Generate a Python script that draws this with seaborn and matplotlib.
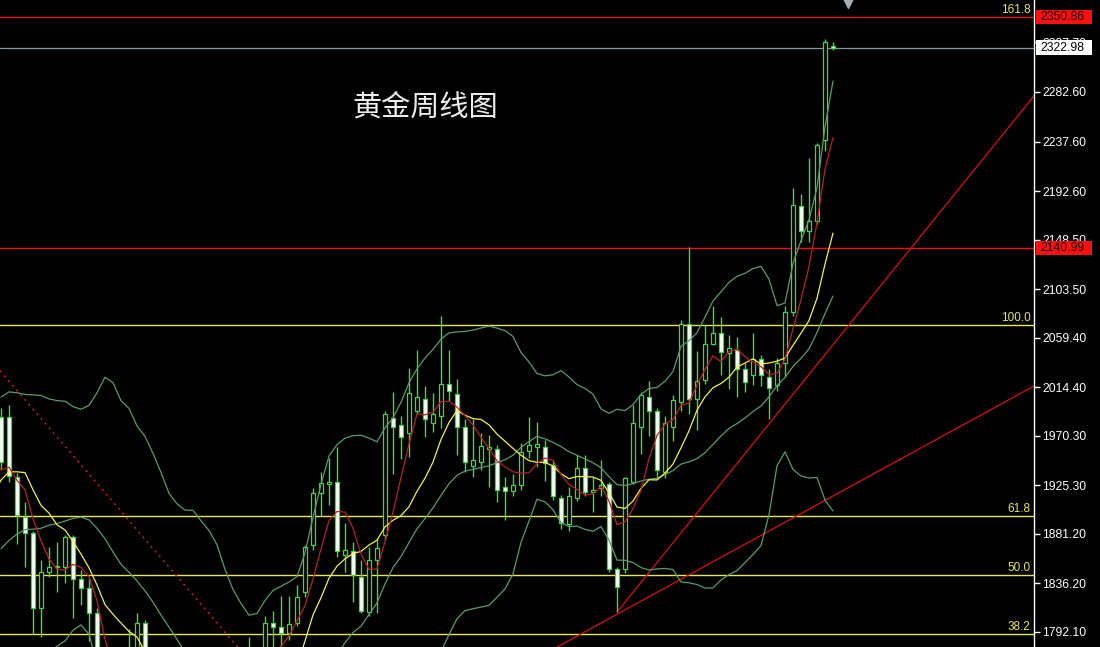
import pandas as pd
import matplotlib
matplotlib.use('Agg')
import matplotlib.pyplot as plt
from matplotlib.patches import Rectangle
import seaborn as sns

# Weekly closes before the first visible candle (only used for MA / Bollinger warm-up)
prior_close = [1783, 1783, 1798, 1808, 1829, 1797, 1818, 1835, 1791, 1808,
               1859, 1898, 1889, 1970, 1988, 1921, 1958, 1925, 1945]

# Weekly gold candles, Apr 2022 -> Apr 2024
open_ = [1987, 1987, 1933, 1896, 1882, 1814, 1846, 1851, 1851, 1878,
         1840, 1832, 1809, 1742, 1703, 1727, 1766, 1775, 1800, 1747,
         1737, 1712, 1716, 1675, 1643, 1661, 1695, 1644, 1657, 1645,
         1681, 1771, 1751, 1755, 1800, 1796, 1791, 1800, 1828, 1871,
         1918, 1926, 1928, 1862, 1865, 1842, 1810, 1857, 1880, 1986,
         1980, 1973, 1993, 2004, 1982, 1988, 2017, 2008, 1978, 1943,
         1946, 1958, 1958, 1924, 1920, 1925, 1956, 1960, 1960, 1944,
         1914, 1890, 1914, 1941, 1919, 1923, 1926, 1849, 1849, 1928,
         1978, 2005, 1993, 1937, 1978, 2001, 2072, 2004, 2021, 2054,
         2064, 2045, 2048, 2031, 2025, 2040, 2024, 2016, 2036, 2083,
         2179, 2156, 2165, 2239, 2324.5]
high = [1995, 1998, 1936, 1910, 1884, 1857, 1869, 1874, 1880, 1880,
        1848, 1841, 1814, 1745, 1739, 1767, 1795, 1809, 1803, 1765,
        1740, 1735, 1735, 1688, 1675, 1729, 1697, 1668, 1675, 1684,
        1774, 1787, 1775, 1806, 1811, 1825, 1825, 1835, 1871, 1923,
        1937, 1950, 1960, 1891, 1874, 1857, 1869, 1876, 1993, 2010,
        1988, 2032, 2048, 2015, 2009, 2079, 2048, 2022, 1985, 1985,
        1973, 1971, 1962, 1933, 1935, 1964, 1987, 1983, 1966, 1948,
        1916, 1924, 1953, 1953, 1933, 1948, 1928, 1851, 1933, 1998,
        2010, 2020, 1995, 1988, 2007, 2075, 2142, 2047, 2071, 2088,
        2078, 2062, 2060, 2036, 2064, 2044, 2031, 2041, 2088, 2195,
        2190, 2223, 2236, 2331, 2328]
low = [1940, 1928, 1872, 1851, 1790, 1787, 1842, 1828, 1836, 1805,
       1816, 1784, 1732, 1697, 1681, 1711, 1754, 1772, 1745, 1728,
       1688, 1691, 1654, 1639, 1615, 1659, 1640, 1617, 1639, 1616,
       1673, 1747, 1721, 1745, 1765, 1774, 1785, 1797, 1824, 1866,
       1897, 1907, 1860, 1846, 1819, 1809, 1806, 1809, 1875, 1935,
       1949, 1951, 1990, 1969, 1974, 1977, 2002, 1953, 1937, 1933,
       1939, 1924, 1910, 1894, 1915, 1921, 1950, 1942, 1929, 1912,
       1885, 1884, 1911, 1915, 1901, 1915, 1846, 1810, 1845, 1926,
       1954, 1970, 1932, 1932, 1965, 1993, 1990, 1975, 2017, 2053,
       2025, 2013, 2005, 2010, 2016, 2015, 1985, 2011, 2024, 2079,
       2146, 2146, 2163, 2229, 2321]
close = [1946, 1934, 1898, 1882, 1814, 1846, 1851, 1851.5, 1878, 1840,
         1832, 1809, 1742, 1703, 1727, 1766, 1775, 1800, 1747, 1737,
         1712, 1716, 1675, 1643, 1661, 1695, 1644, 1657, 1645, 1681,
         1771, 1751, 1755, 1800, 1796, 1791, 1799, 1824, 1869, 1918,
         1927, 1928, 1865, 1866, 1844, 1811, 1857, 1868, 1990, 1978,
         1969, 2009, 2005, 1985, 1990, 2017, 2011, 1978, 1946, 1948,
         1961, 1960, 1921, 1920, 1925, 1955, 1962, 1962.5, 1945, 1915,
         1891, 1915, 1941, 1919, 1921, 1925, 1849, 1833, 1932, 1982,
         2007, 1993, 1939, 1982, 2003, 2072, 2004, 2020, 2054, 2064,
         2046, 2050, 2031, 2019, 2040, 2025, 2014, 2036, 2083, 2180,
         2156, 2165, 2234, 2328, 2323]

y_ticks = [2327.70, 2282.60, 2237.60, 2192.60, 2148.50, 2103.50, 2059.40,
           2014.40, 1970.30, 1925.30, 1881.20, 1836.20, 1792.10]

# Fibonacci retracement (low -> high) and drawn levels
fib_low, fib_high = 1616.5, 2070.4
fib_levels = [38.2, 50.0, 61.8, 100.0, 161.8]
red_levels = [2350.86, 2140.99]
bid_price = 2322.98

# trend lines, (week index, price) anchors
down_line = [(-5, 2070.4), (25, 1817.0)]
slow_up_line = [(29, 1617.0), (77, 1808.0)]
fast_up_line = [(77, 1810.0), (96, 1981.0)]

GREEN = '#3cdc3c'
BAND = '#5b9b6b'
RED = '#e81010'
YELLOW = '#e8e858'

sns.set_style('dark', {'axes.facecolor': 'black', 'figure.facecolor': 'black'})
plt.rcParams['font.family'] = ['Liberation Sans', 'Noto Sans CJK SC', 'DejaVu Sans']

df = pd.DataFrame({'open': open_, 'high': high, 'low': low, 'close': close})
df['idx'] = range(len(df))

# indicators: SMA5 (red), SMA10 (yellow), Bollinger(20, 2)
all_close = pd.Series(prior_close + close, index=range(-len(prior_close), len(close)))
sma5 = all_close.rolling(5).mean()
sma10 = all_close.rolling(10).mean()
mid = all_close.rolling(20).mean()
sd = all_close.rolling(20).std(ddof=0)
upper = mid + 2 * sd
lower = mid - 2 * sd

fig = plt.figure(figsize=(11, 6.47), dpi=100)
ax = fig.add_axes([0, 0, 1034 / 1100, 1])
ax.set_facecolor('black')

# horizontal levels (the 161.8 level sits under the red 2350.86 line)
for lv in fib_levels:
    price = fib_low + (fib_high - fib_low) * lv / 100
    if lv <= 100:
        ax.axhline(price, color=YELLOW, lw=1, zorder=1)
    ax.text(0.9965, price + 1.2, f'{lv:.1f}', transform=ax.get_yaxis_transform(),
            ha='right', va='bottom', color=YELLOW, fontsize=8.5, zorder=6)
for lv in red_levels:
    ax.axhline(lv, color=RED, lw=1, zorder=2)
ax.axhline(bid_price, color='#8896a4', lw=0.9, zorder=2)

# trend lines
ax.axline(down_line[0], down_line[1], color='#d02020', lw=1, ls=(0, (1.5, 3)), zorder=2)
ax.axline(slow_up_line[0], slow_up_line[1], color='#d81010', lw=0.9, zorder=2)
(x0, y0), (x1, y1) = fast_up_line
slope = (y1 - y0) / (x1 - x0)
ax.plot([x0, 135], [y0, y0 + slope * (135 - x0)], color='#d81010', lw=0.9, zorder=2)

# candles: hollow = up week, white = down week
bull = df[df['close'] >= df['open']]
bear = df[df['close'] < df['open']]
ax.vlines(df['idx'], df['low'], df['high'], color=GREEN, lw=1, zorder=3)
for part, face in [(bull, 'black'), (bear, 'white')]:
    bottom = part[['open', 'close']].min(axis=1)
    height = (part['close'] - part['open']).abs().clip(lower=0.8)
    ax.bar(part['idx'], height, bottom=bottom, width=0.62, color=face,
           edgecolor=GREEN, linewidth=0.9, zorder=4)

# indicator lines
vis = all_close.index >= -2
for series, col in [(upper, BAND), (mid, BAND), (lower, BAND),
                    (sma10, '#f2f24a'), (sma5, '#b82222')]:
    s = series[vis]
    sns.lineplot(x=s.index, y=s.values, color=col, lw=0.9, ax=ax, zorder=5)

ax.set_xlim(-0.125, 129.125)
ax.set_ylim(1778.2, 2366.2)

# right price axis
ax.yaxis.tick_right()
ax.set_yticks(y_ticks)
ax.set_yticklabels([f'{t:.2f}' for t in y_ticks])
ax.tick_params(axis='y', colors='white', labelcolor='white', labelsize=8.7,
               length=4, width=1, direction='out', pad=2)
ax.tick_params(axis='x', bottom=False, labelbottom=False)
ax.grid(False)
for side in ['left', 'top', 'bottom']:
    ax.spines[side].set_visible(False)
ax.spines['right'].set_color('white')
ax.spines['right'].set_linewidth(1)
ax.set_xlabel('')
ax.set_ylabel('')

# price boxes on the axis
yt = ax.get_yaxis_transform()
h = 6.6
for price, face in [(red_levels[0], '#ff1010'), (bid_price, 'white'), (red_levels[1], '#ff1010')]:
    ax.add_patch(Rectangle((1.0019, price - h), 0.0542, 2 * h, transform=yt,
                           facecolor=face, edgecolor='none', clip_on=False, zorder=10))
    ax.text(1.0058, price, f'{price:.2f}', transform=yt, ha='left', va='center',
            fontsize=8.7, color='#1a0000' if face != 'white' else 'black', zorder=11, clip_on=False)

# chart shift marker
ax.plot(848 / 1034, 0.996, marker='v', ms=7, color='#a4acb8', transform=ax.transAxes,
        clip_on=False, zorder=10)

fig.text(425 / 1100, 1 - 108 / 647, '黄金周线图', color='#ececec', fontsize=21,
         ha='center', va='center', family=['Noto Sans CJK SC', 'DejaVu Sans'])

fig.savefig('out.png', dpi=100, facecolor='black')
